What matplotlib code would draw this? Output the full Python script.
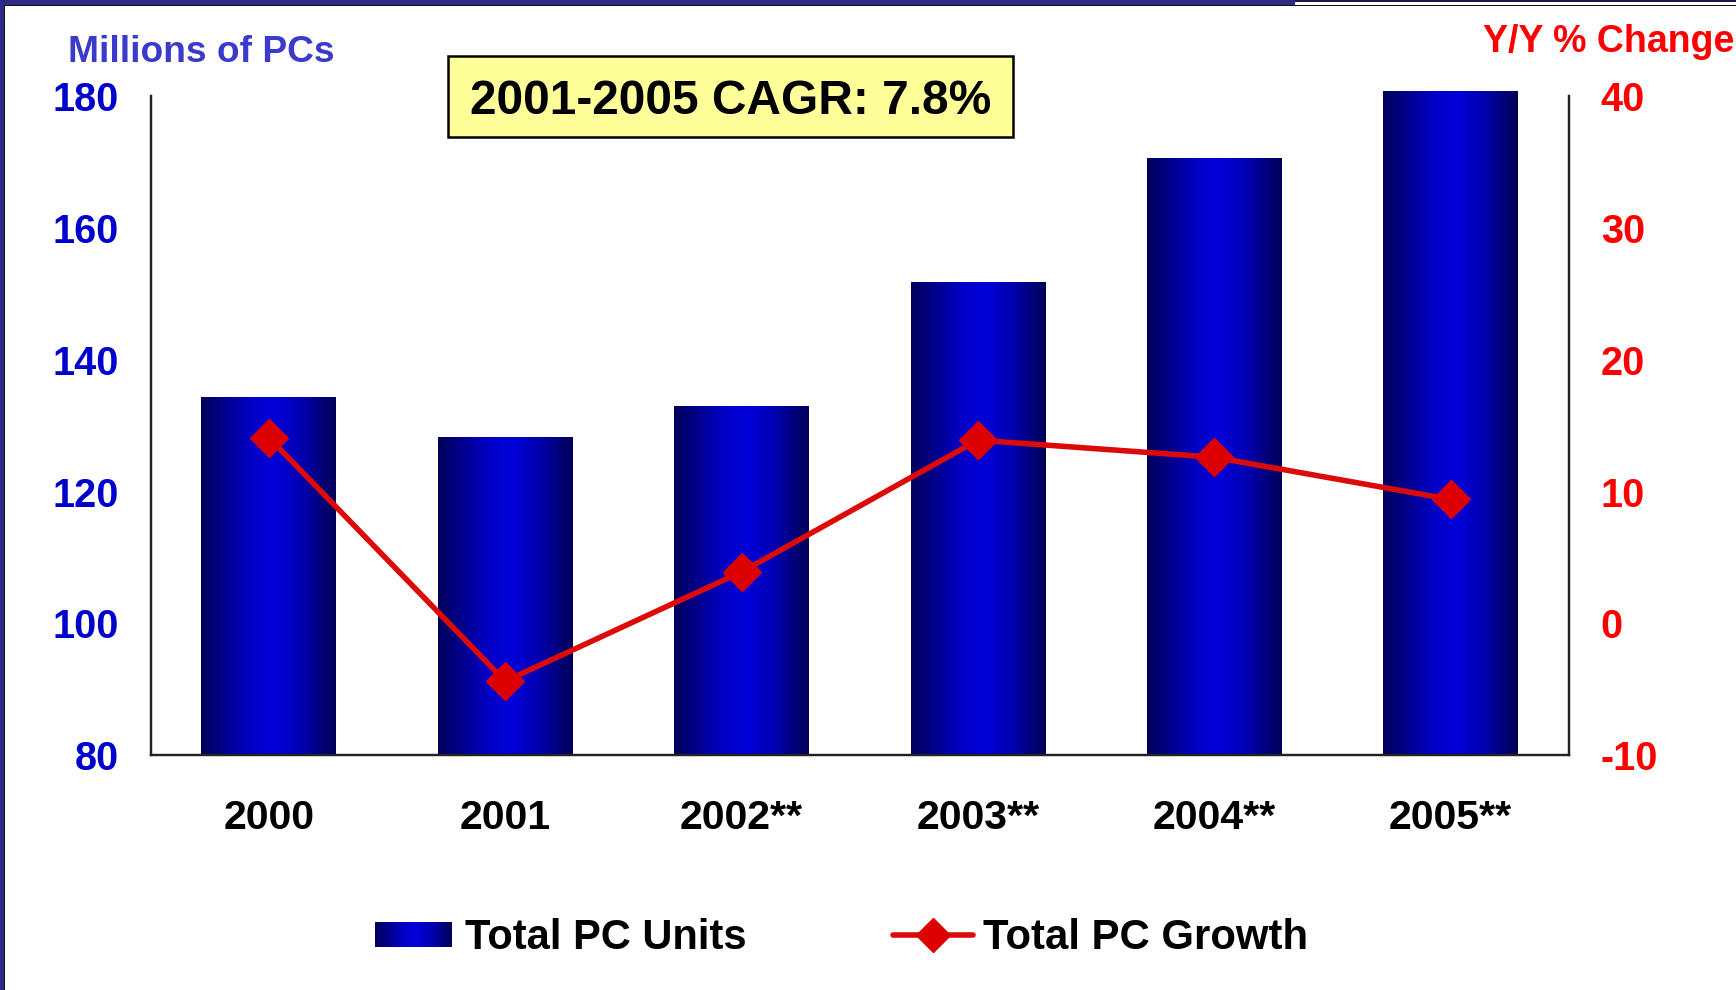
import numpy as np
import matplotlib
matplotlib.use("Agg")
import matplotlib.pyplot as plt
from matplotlib.colors import LinearSegmentedColormap
from matplotlib.patches import Rectangle
from matplotlib.lines import Line2D

# ---- data ----
years = ["2000", "2001", "2002**", "2003**", "2004**", "2005**"]
pc_units = [134.3, 128.2, 132.9, 151.8, 170.6, 180.8]   # millions of PCs
pc_growth = [14.1, -4.4, 3.9, 13.9, 12.6, 9.4]          # Y/Y % change
left_ticks = [80, 100, 120, 140, 160, 180]
right_ticks = [-10, 0, 10, 20, 30, 40]
cagr_text = "2001-2005 CAGR: 7.8%"

plt.rcParams['font.family'] = ['Liberation Sans', 'DejaVu Sans']
plt.rcParams['font.weight'] = 'bold'
plt.rcParams['axes.unicode_minus'] = False

W, H = 1736, 990
fig = plt.figure(figsize=(W / 100, H / 100), dpi=100)
fig.patch.set_facecolor('white')

def fx(px):
    return px / W

def fy(py):
    return 1 - py / H

ax_l, ax_r, ax_t, ax_b = 150.6, 1568.8, 96.3, 755.0
ax = fig.add_axes([fx(ax_l), fy(ax_b), fx(ax_r - ax_l), (ax_b - ax_t) / H])
ax2 = ax.twinx()

grad_cmap = LinearSegmentedColormap.from_list(
    "bar", [(0.0, "#00005a"), (0.15, "#000085"), (0.38, "#0000c8"),
            (0.55, "#0000d8"), (0.75, "#0000b0"), (0.9, "#000078"), (1.0, "#000058")])
grad = np.linspace(0, 1, 256).reshape(1, -1)

x = np.arange(len(years))
ymin, ymax = left_ticks[0], left_ticks[-1]
bars = ax.bar(x, np.array(pc_units) - ymin, bottom=ymin, width=0.57,
              facecolor='none', edgecolor='none', clip_on=False)
for b in bars:
    x0, y0 = b.get_x(), b.get_y()
    ax.imshow(grad, cmap=grad_cmap, aspect='auto',
              extent=[x0, x0 + b.get_width(), y0, y0 + b.get_height()],
              interpolation='bilinear', zorder=2, clip_on=False)

ax.set_xlim(-0.5, len(years) - 0.5)
ax.set_ylim(ymin, ymax)
ax.set_yticks(left_ticks)
ax.set_xticks(x)
ax.set_xticklabels(years)
ax.tick_params(axis='y', length=0, pad=23, labelsize=28.5, labelcolor='#0000cc')
ax.tick_params(axis='x', length=0, pad=32, labelsize=29.5, labelcolor='black')
for lab in ax.get_yticklabels() + ax.get_xticklabels():
    lab.set_fontweight('bold')

ax2.plot(x, pc_growth, color='#dd0a0a', lw=4.0, marker='D', ms=19.5,
         markerfacecolor='#dd0000', markeredgecolor='#dd0000', zorder=5)
ax2.set_ylim(right_ticks[0], right_ticks[-1])
ax2.set_yticks(right_ticks)
ax2.tick_params(axis='y', length=0, pad=23, labelsize=28.5, labelcolor='#ff0000')
for lab in ax2.get_yticklabels():
    lab.set_fontweight('bold')

for a in (ax, ax2):
    a.spines['top'].set_visible(False)
    for s in ('left', 'right', 'bottom'):
        a.spines[s].set_linewidth(1.6)
        a.spines[s].set_color('#222222')

# axis titles
fig.text(fx(68), fy(52), "Millions of PCs", color='#3a3acc', fontsize=26.7,
         fontweight='bold', ha='left', va='center')
fig.text(fx(1483), fy(42), "Y/Y % Change", color='#ff0000', fontsize=27,
         fontweight='bold', ha='left', va='center')

# CAGR box
fig.patches.append(Rectangle((fx(448), fy(137)), fx(1013 - 448), (137 - 56) / H,
                             transform=fig.transFigure, facecolor='#ffff99',
                             edgecolor='black', lw=1.8, zorder=10))
fig.text(fx(730.5), fy(101), cagr_text, fontsize=34.5, fontweight='bold',
         ha='center', va='center', color='black', zorder=11)

# legend (manual)
lax = fig.add_axes([fx(375), fy(947), fx(452 - 375), (947 - 922) / H])
lax.imshow(grad, cmap=grad_cmap, aspect='auto', extent=[0, 1, 0, 1])
lax.set_axis_off()
fig.text(fx(465), fy(938), "Total PC Units", fontsize=30, fontweight='bold',
         ha='left', va='center', color='black')
fig.lines.append(Line2D([fx(893), fx(973)], [fy(935), fy(935)],
                        transform=fig.transFigure, color='#dd0a0a', lw=4.0,
                        solid_capstyle='round'))
fig.lines.append(Line2D([fx(933)], [fy(935)], transform=fig.transFigure,
                        marker='D', ms=17, color='#dd0000', lw=0))
fig.text(fx(983), fy(938), "Total PC Growth", fontsize=30.2, fontweight='bold',
         ha='left', va='center', color='black')

# frame decoration
fig.patches.append(Rectangle((0, fy(5)), fx(1295), 5 / H, transform=fig.transFigure,
                             facecolor='#2e2a86', edgecolor='none', zorder=20))
fig.patches.append(Rectangle((fx(1295), fy(2)), fx(W - 1295), 2 / H, transform=fig.transFigure,
                             facecolor='#1a1850', edgecolor='none', zorder=20))
fig.patches.append(Rectangle((0, fy(6)), 1, 1 / H, transform=fig.transFigure,
                             facecolor='#111111', edgecolor='none', zorder=20))
fig.patches.append(Rectangle((0, 0), fx(4), 1, transform=fig.transFigure,
                             facecolor='#2e2a8a', edgecolor='none', zorder=20))
fig.patches.append(Rectangle((fx(4), 0), fx(1), fy(5), transform=fig.transFigure,
                             facecolor='#111111', edgecolor='none', zorder=20))

fig.savefig("out.png", dpi=100)
